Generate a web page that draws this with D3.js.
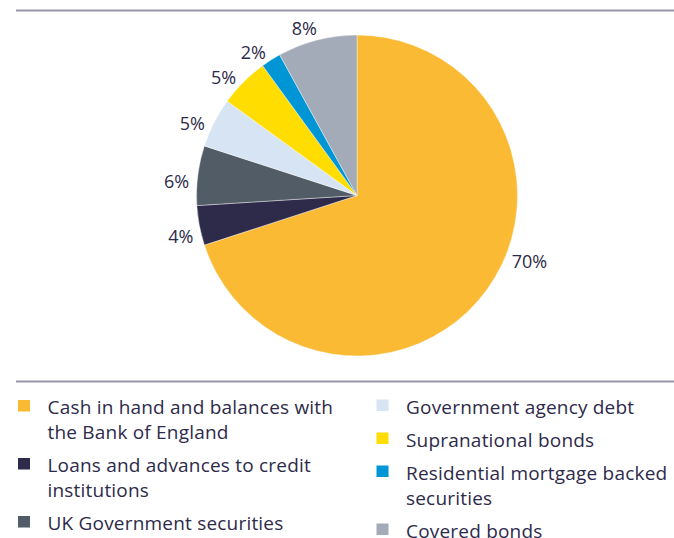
<!DOCTYPE html>
<html>
<head>
<meta charset="utf-8">
<script src="https://cdn.jsdelivr.net/npm/d3@7"></script>
<style>
  html, body { margin: 0; padding: 0; background: #fff; }
  svg { display: block; }
  text { font-family: "Open Sans", Lato, sans-serif; fill: #2e2a4a; }
</style>
</head>
<body>
<svg id="chart" width="674" height="538"></svg>
<script>
// Liquidity portfolio composition
const categories = [
  "Cash in hand and balances with the Bank of England",
  "Loans and advances to credit institutions",
  "UK Government securities",
  "Government agency debt",
  "Supranational bonds",
  "Residential mortgage backed securities",
  "Covered bonds"
];
const shares = [70, 4, 6, 5, 5, 2, 8];
const colors = ["#fbba33", "#2d2a4a", "#525c66", "#d6e4f3", "#ffdd00", "#0096d6", "#a3aab8"];

// Legend lines (wrapped) and column assignment
const legendLines = [
  ["Cash in hand and balances with", "the Bank of England"],
  ["Loans and advances to credit", "institutions"],
  ["UK Government securities"],
  ["Government agency debt"],
  ["Supranational bonds"],
  ["Residential mortgage backed", "securities"],
  ["Covered bonds"]
];
const legendColumn = [0, 0, 0, 1, 1, 1, 1];

const svg = d3.select("#chart");
const W = 674;

// Rules above the pie and above the legend
svg.append("line").attr("x1", 16).attr("x2", W).attr("y1", 10.5).attr("y2", 10.5)
  .attr("stroke", "#9896a8").attr("stroke-width", 2);
svg.append("line").attr("x1", 16).attr("x2", W).attr("y1", 381.5).attr("y2", 381.5)
  .attr("stroke", "#9896a8").attr("stroke-width", 2);

const cx = 357, cy = 195.5, R = 160.5;

const pie = d3.pie().sort(null).value(d => d)(shares);
const arc = d3.arc().innerRadius(0).outerRadius(R);

const g = svg.append("g").attr("transform", `translate(${cx},${cy})`);
g.selectAll("path").data(pie).join("path")
  .attr("d", arc)
  .attr("fill", (d, i) => colors[i])
  .attr("stroke", "#fff").attr("stroke-width", 0.4);

// Percentage labels: pushed just outside the rim, offset by half the label box
// along the slice direction. The large slice's label sits higher up its edge.
const labelFont = 18;
const labelAngle = (d, i) => i === 0
  ? d.startAngle + (d.endAngle - d.startAngle) * 0.445
  : (d.startAngle + d.endAngle) / 2 - 2.5 * Math.PI / 180;
const labels = g.selectAll("text.pct").data(pie).join("text")
  .attr("class", "pct")
  .attr("text-anchor", "middle")
  .attr("dominant-baseline", "central")
  .attr("font-size", labelFont)
  .text(d => d.data + "%");
labels.each(function (d, i) {
  const a = labelAngle(d, i);
  const box = this.getBBox();
  const r0 = R + 8;
  const sx = Math.sin(a), sy = -Math.cos(a);
  const x = sx * r0 + sx * box.width / 2;
  const y = sy * r0 + sy * 13 / 2;
  d3.select(this).attr("x", x).attr("y", y);
});

// Legend
const colX = [18, 376.5];
const colBase = [414, 413.5];
const textOffset = 29.5;
const lineH = 25, itemGap = 33;
const baseY = colBase.slice();
categories.forEach((c, i) => {
  const col = legendColumn[i];
  const y = baseY[col];
  svg.append("rect").attr("x", colX[col]).attr("y", y - 14).attr("width", 12).attr("height", 11.5)
    .attr("fill", colors[i]);
  const t = svg.append("text").attr("x", colX[col] + textOffset).attr("y", y)
    .attr("font-size", 19).attr("letter-spacing", 0.2);
  legendLines[i].forEach((ln, k) => {
    t.append("tspan").attr("x", colX[col] + textOffset).attr("dy", k === 0 ? 0 : lineH).text(ln);
  });
  baseY[col] += itemGap + (legendLines[i].length - 1) * lineH;
});
</script>
</body>
</html>
